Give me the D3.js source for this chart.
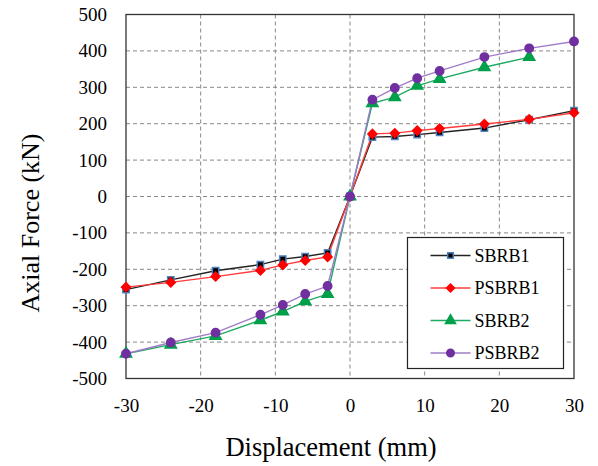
<!DOCTYPE html>
<html>
<head>
<meta charset="utf-8">
<script src="https://cdn.jsdelivr.net/npm/d3@7"></script>
<style>
  body { margin: 0; background: #fff; }
</style>
</head>
<body>
<div id="canvas"></div>
<script>
const width = 598;
const height = 466;
const margin = { top: 14.5, right: 24, bottom: 87.5, left: 126 };
const serif = "Times New Roman, Liberation Serif, serif";

// displacement steps (mm)
const disp = [-30, -24, -18, -12, -9, -6, -3, 0, 3, 6, 9, 12, 18, 24, 30];

// axial force (kN)
const sbrb1  = [-256, -229, -204, -187, -172, -165, -155, 0, 163, 165, 170, 176, 188, 211, 236];
const psbrb1 = [-249, -236, -220, -203, -188, -176, -166, 0, 172, 174, 181, 187, 199, 212, 230];
const sbrb2  = [-432, -407, -383, -340, -316, -288, -268, 0, 256, 273, 304, 323, 355, 383, null];
const psbrb2 = [-432, -401, -374, -325, -298, -268, -246, 0, 266, 298, 325, 345, 383, 407, 426];

const seriesNames = ["SBRB1", "PSBRB1", "SBRB2", "PSBRB2"];
const xTicks = [-30, -20, -10, 0, 10, 20, 30];
const yTicks = [-500, -400, -300, -200, -100, 0, 100, 200, 300, 400, 500];

const styles = {
    SBRB1:  { line: "#222", fill: "#000", stroke: "#4f81bd", shape: d3.symbolSquare, size: 40, rot: 0 },
    PSBRB1: { line: "#ff3b3b", fill: "#ff0000", stroke: "#ff0000", shape: d3.symbolSquare, size: 40, rot: 45 },
    SBRB2:  { line: "#1faa62", fill: "#00a04a", stroke: "#00a04a", shape: d3.symbolTriangle, size: 55, rot: 0 },
    PSBRB2: { line: "#a07cc8", fill: "#7030a0", stroke: "#7030a0", shape: d3.symbolCircle, size: 55, rot: 0 }
};

const seriesData = [sbrb1, psbrb1, sbrb2, psbrb2].map((vals, i) => ({
    name: seriesNames[i],
    points: disp.map((d, j) => ({ x: d, y: vals[j] })).filter(p => p.y !== null)
}));

const svg = d3.select("#canvas")
    .append("svg")
    .attr("width", width)
    .attr("height", height)
    .attr("font-family", serif);

const x = d3.scaleLinear([-30, 30], [margin.left, width - margin.right]);
const y = d3.scaleLinear([-500, 500], [height - margin.bottom, margin.top]);

// grid
svg.append("g")
    .selectAll("line")
    .data(xTicks.slice(1, -1))
    .join("line")
    .attr("x1", d => x(d)).attr("x2", d => x(d))
    .attr("y1", y(500)).attr("y2", y(-500))
    .attr("stroke", "#888").attr("stroke-dasharray", "4,3");

svg.append("g")
    .selectAll("line")
    .data(yTicks.slice(1, -1))
    .join("line")
    .attr("x1", x(-30)).attr("x2", x(30))
    .attr("y1", d => y(d)).attr("y2", d => y(d))
    .attr("stroke", "#888").attr("stroke-dasharray", "4,3");

// frame
svg.append("rect")
    .attr("x", x(-30)).attr("y", y(500))
    .attr("width", x(30) - x(-30)).attr("height", y(-500) - y(500))
    .attr("fill", "none").attr("stroke", "#333").attr("stroke-width", 1.3);

// axes
const fmt = d => String(d);
const xAxis = svg.append("g")
    .attr("transform", `translate(0,${y(-500)})`)
    .call(d3.axisBottom(x).tickValues(xTicks).tickFormat(fmt).tickSize(0).tickPadding(20));
const yAxis = svg.append("g")
    .attr("transform", `translate(${x(-30)},0)`)
    .call(d3.axisLeft(y).tickValues(yTicks).tickFormat(fmt).tickSize(0).tickPadding(19));
[xAxis, yAxis].forEach(a => {
    a.attr("font-family", serif).attr("font-size", 19);
    a.select(".domain").remove();
    a.selectAll("text").attr("fill", "#000");
});

// lines + markers
const line = d3.line().x(d => x(d.x)).y(d => y(d.y));

seriesData.forEach(s => {
    const st = styles[s.name];
    svg.append("path")
        .datum(s.points)
        .attr("d", line)
        .attr("fill", "none")
        .attr("stroke", st.line)
        .attr("stroke-width", 1.4);
});

seriesData.forEach(s => {
    const st = styles[s.name];
    svg.append("g")
        .selectAll("path")
        .data(s.points)
        .join("path")
        .attr("d", d3.symbol(st.shape, st.size))
        .attr("transform", d => `translate(${x(d.x)},${y(d.y)}) rotate(${st.rot})`)
        .attr("fill", st.fill)
        .attr("stroke", st.stroke)
        .attr("stroke-width", 1.5);
});

// axis titles
svg.append("text")
    .attr("x", 331)
    .attr("y", 456)
    .attr("text-anchor", "middle")
    .attr("font-size", 26.5)
    .text("Displacement (mm)");

svg.append("text")
    .attr("transform", "translate(39,223) rotate(-90)")
    .attr("text-anchor", "middle")
    .attr("font-size", 26)
    .text("Axial Force (kN)");

// legend
const lg = svg.append("g").attr("transform", "translate(407.5,237.5)");
lg.append("rect")
    .attr("width", 156).attr("height", 131)
    .attr("fill", "#fff").attr("stroke", "#222").attr("stroke-width", 1.2);

seriesNames.forEach((name, i) => {
    const st = styles[name];
    const cy = 18 + i * 32.5;
    lg.append("line")
        .attr("x1", 23).attr("x2", 63)
        .attr("y1", cy).attr("y2", cy)
        .attr("stroke", st.line).attr("stroke-width", 1.4);
    lg.append("path")
        .attr("d", d3.symbol(st.shape, st.size * 0.8))
        .attr("transform", `translate(43,${cy}) rotate(${st.rot})`)
        .attr("fill", st.fill).attr("stroke", st.stroke).attr("stroke-width", 1.5);
    lg.append("text")
        .attr("x", 67).attr("y", cy + 6)
        .attr("font-size", 18)
        .text(name);
});
</script>
</body>
</html>
